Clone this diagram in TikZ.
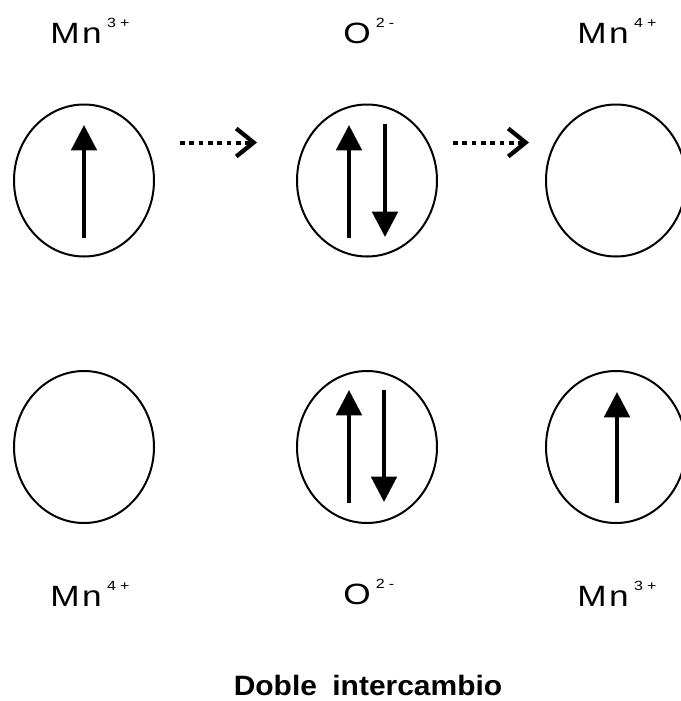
\documentclass[tikz,border=0pt]{standalone}
\usepackage{fontspec}
\setmainfont{Liberation Sans}
\newfontfamily\ionfont[FakeStretch=1.2]{Liberation Sans}
\newfontfamily\titlefont[FakeStretch=1.07]{Liberation Sans}
\usetikzlibrary{arrows.meta,shapes.geometric,calc}
\newcommand{\ion}[2]{{\ionfont\fontsize{22}{26}\selectfont #1\hspace{4pt}\raisebox{12pt}{\fontsize{10}{12}\selectfont #2}}}
\begin{document}
\begin{tikzpicture}[x=0.75pt,y=-0.75pt,
	orb/.style={draw,ellipse,line width=1.5pt,minimum width=105pt,minimum height=114pt,inner sep=0pt},
	spin/.style={line width=3pt,-{Triangle[length=19pt,width=19pt]}},
	hop/.style={line width=3pt,dash pattern=on 3.4pt off 3.6pt,-{Straight Barb[length=13pt,width=21pt,line width=3.2pt]}},
	lbl/.style={anchor=base west,inner sep=0pt}]
	\useasboundingbox (0,0) rectangle (681,701);
	% top row
	\node[orb] (a1) at (84,180.5) {};
	\node[orb] (b1) at (367,180.5) {};
	\node[orb] (c1) at (616,180.5) {};
	\draw[spin] ($(a1)+(0,57.5)$) -- ($(a1)+(0,-55.5)$);
	\draw[spin] ($(b1)+(-18,57.5)$) -- ($(b1)+(-18,-55.5)$);
	\draw[spin] ($(b1)+(18,-56.5)$) -- ($(b1)+(18,56.5)$);
	\draw[hop] ($(a1.east)+(25,-38)$) -- ($(b1.west)+(-39,-38)$);
	\draw[hop] ($(b1.east)+(15,-38)$) -- ($(c1.west)+(-16,-38)$);
	\node[lbl] (la1) at (50,43) {\ion{M\hspace{2pt}n}{3\hspace{3pt}+}};
	\node[lbl] (lb1) at (343,43) {\ion{O}{2\hspace{3pt}-}};
	\node[lbl] (lc1) at (577,43) {\ion{M\hspace{2pt}n}{4\hspace{3pt}+}};
	% bottom row
	\node[orb] (a2) at (84,447) {};
	\node[orb] (b2) at (367,447) {};
	\node[orb] (c2) at (616,447) {};
	\draw[spin] ($(b2)+(-18,56)$) -- ($(b2)+(-18,-57)$);
	\draw[spin] ($(b2)+(17,-57)$) -- ($(b2)+(17,55)$);
	\draw[spin] ($(c2)+(1,56)$) -- ($(c2)+(1,-55)$);
	\node[lbl] (la2) at (50,606) {\ion{M\hspace{2pt}n}{4\hspace{3pt}+}};
	\node[lbl] (lb2) at (343,604) {\ion{O}{2\hspace{3pt}-}};
	\node[lbl] (lc2) at (577,606) {\ion{M\hspace{2pt}n}{3\hspace{3pt}+}};
	\node[anchor=base,inner sep=0pt] (title) at (368,695) {\titlefont\bfseries\fontsize{21}{25}\selectfont Doble\hspace{0.55em}intercambio};
\end{tikzpicture}
\end{document}
